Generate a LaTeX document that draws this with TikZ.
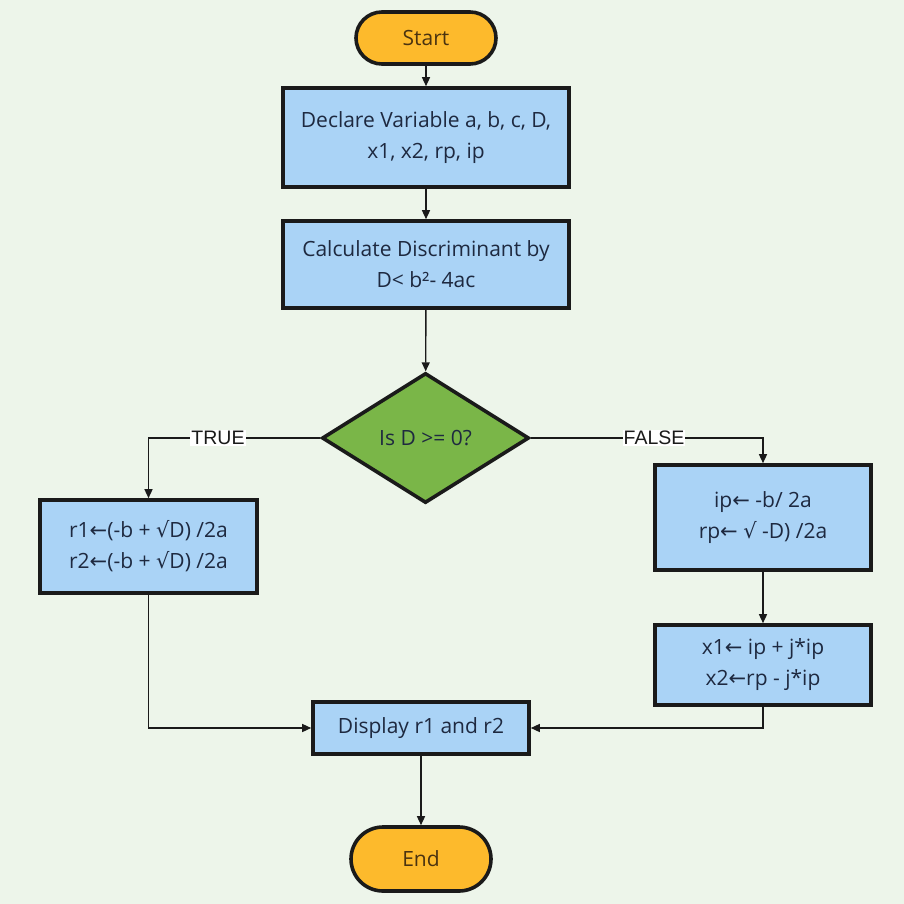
\documentclass[tikz,border=0pt]{standalone}
\usepackage{fontspec}
\setmainfont{Open Sans}
\newfontfamily\symf{DejaVu Sans}
\newfontfamily\labf{Liberation Sans}
\usetikzlibrary{shapes.geometric,arrows.meta}
\definecolor{bgc}{HTML}{EDF5EA}
\definecolor{boxc}{HTML}{AAD3F6}
\definecolor{termc}{HTML}{FDBA2C}
\definecolor{decc}{HTML}{7AB648}
\definecolor{edgec}{HTML}{1A1A1A}
\definecolor{txtc}{HTML}{1E2940}
\definecolor{termtxt}{HTML}{4A3310}
\newcommand{\la}{{\symf\char"2190}}
\newcommand{\sq}{{\symf\char"221A}}
\tikzset{
  base/.style={draw=edgec, line width=3.6pt, text=txtc, font=\fontsize{21}{31}\selectfont, align=center, inner sep=0pt},
  procbox/.style={base, rectangle, fill=boxc},
  termbox/.style={base, rectangle, fill=termc, minimum width=140pt, text=termtxt},
  decbox/.style={base, diamond, fill=decc, aspect=1.59},
  conn/.style={draw=edgec, line width=1.4pt, -{Triangle[length=9pt,width=8pt]}},
  lab/.style={fill=white, inner sep=1pt, text=edgec, font=\labf\fontsize{19.5}{21}\selectfont}
}
\begin{document}
\begin{tikzpicture}[x=1pt,y=-1pt]
\fill[bgc] (0,0) rectangle (904,904);
\useasboundingbox (0,0) rectangle (904,904);

\node[termbox, minimum height=52pt, rounded corners=26pt] (start) at (426,38) {Start};
\node[procbox, minimum width=286pt, minimum height=99pt] (decl) at (426,137.5) {Declare Variable a, b, c, D,\\x1, x2, rp, ip};
\node[procbox, minimum width=286pt, minimum height=87pt] (calc) at (426,264.5) {Calculate Discriminant by\\D< b²- 4ac};
\node[decbox, minimum width=207pt, minimum height=130pt] (dec) at (425.5,438) {Is D >= 0?};
\node[procbox, minimum width=217pt, minimum height=93pt] (roots) at (148.5,546.5) {r1\la(-b + \sq D) /2a\\r2\la(-b + \sq D) /2a};
\node[procbox, minimum width=216pt, minimum height=105pt] (parts) at (763,517.5) {ip\la{} -b/ 2a\\rp\la{} \sq{} -D) /2a};
\node[procbox, minimum width=216pt, minimum height=80pt] (cplx) at (763,665) {x1\la{} ip + j*ip\\x2\la rp - j*ip};
\node[procbox, minimum width=216pt, minimum height=52pt] (disp) at (421,728) {Display r1 and r2};
\node[termbox, minimum height=64pt, rounded corners=32pt] (stop) at (421,859) {End};

\coordinate (tl) at (148.5,438);
\coordinate (fr) at (763,438);
\coordinate (lb) at (148.5,728);
\coordinate (rb) at (763,728);

\draw[conn] (start) -- (decl);
\draw[conn] (decl) -- (calc);
\draw[conn] (calc) -- (dec);
\draw[conn] (dec.west) -- (tl) -- (roots.north);
\draw[conn] (dec.east) -- (fr) -- (parts.north);
\draw[conn] (parts) -- (cplx);
\draw[conn] (roots.south) -- (lb) -- (disp.west);
\draw[conn] (cplx.south) -- (rb) -- (disp.east);
\draw[conn] (disp) -- (stop);

\node[lab] (tlab) at (218,438) {TRUE};
\node[lab] (flab) at (654,438) {FALSE};
\end{tikzpicture}
\end{document}
